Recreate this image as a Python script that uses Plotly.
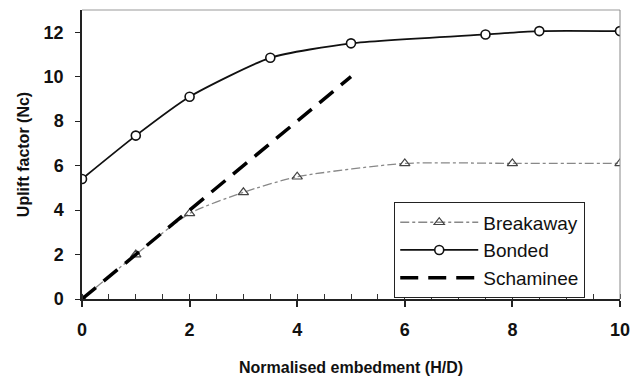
import plotly.graph_objects as go

# Data
bonded_x = [0, 1, 2, 3.5, 5, 7.5, 8.5, 10]
bonded_y = [5.4, 7.35, 9.1, 10.85, 11.5, 11.9, 12.05, 12.05]

breakaway_x = [0, 1, 2, 3, 4, 6, 8, 10]
breakaway_y = [0, 2.0, 3.85, 4.8, 5.5, 6.1, 6.1, 6.1]

schaminee_x = [0, 5]
schaminee_y = [0, 10]

x_ticks = [0, 2, 4, 6, 8, 10]
y_ticks = [0, 2, 4, 6, 8, 10, 12]

FONT = "Liberation Sans, Arial, sans-serif"

fig = go.Figure()

fig.add_trace(go.Scatter(
    x=breakaway_x, y=breakaway_y, name="Breakaway",
    mode="lines+markers",
    line=dict(color="#888888", width=1.3, dash="dashdot", shape="spline", smoothing=0.6),
    marker=dict(symbol="triangle-up-open", size=9, color="#444444", line=dict(width=1.2)),
))
fig.add_trace(go.Scatter(
    x=bonded_x, y=bonded_y, name="Bonded",
    mode="lines+markers",
    line=dict(color="#111111", width=1.8, shape="spline", smoothing=0.6),
    marker=dict(symbol="circle", size=9, color="white", line=dict(color="#111111", width=1.6)),
))
fig.add_trace(go.Scatter(
    x=schaminee_x, y=schaminee_y, name="Schaminee",
    mode="lines",
    line=dict(color="#000000", width=3.5, dash="18px,10px"),
))

fig.update_layout(
    width=634, height=380,
    margin=dict(l=82, r=14, t=10, b=81),
    paper_bgcolor="white", plot_bgcolor="white",
    font=dict(family=FONT, color="#111111"),
    showlegend=True,
    legend=dict(
        x=0.58, y=0.335, xanchor="left", yanchor="top",
        bordercolor="#222222", borderwidth=1.2, bgcolor="white",
        font=dict(size=19, family=FONT, color="#111111"),
        itemwidth=78,
        tracegroupgap=0,
    ),
    xaxis=dict(
        range=[0, 10], tickvals=x_ticks, ticktext=[str(v) for v in x_ticks],
        showgrid=False, zeroline=False, automargin=False,
        showline=True, linecolor="#222222", linewidth=1.5,
        ticks="outside", ticklen=6, tickcolor="#222222", tickwidth=1.5,
        ticklabelstandoff=8,
        minor=dict(dtick=0.5, tick0=0, ticks="inside", ticklen=5, tickcolor="#333333", tickwidth=1.2),
        tickfont=dict(size=18, family=FONT, weight="bold"),
        title=dict(text="<b>Normalised embedment (H/D)</b>", font=dict(size=16, family=FONT), standoff=22),
    ),
    yaxis=dict(
        range=[0, 13], tickvals=y_ticks, ticktext=[str(v) for v in y_ticks],
        showgrid=False, zeroline=False, automargin=False,
        showline=True, linecolor="#222222", linewidth=1.5,
        ticks="outside", ticklen=5, tickcolor="#222222", tickwidth=1.2,
        ticklabelstandoff=8,
        tickfont=dict(size=18, family=FONT, weight="bold"),
        title=dict(text="<b>Uplift factor (Nc)</b>", font=dict(size=16, family=FONT), standoff=10),
    ),
)

# light frame on top and right
fig.add_shape(type="line", xref="paper", yref="paper", x0=0, x1=1, y0=1, y1=1,
              line=dict(color="#999999", width=1))
fig.add_shape(type="line", xref="paper", yref="paper", x0=1, x1=1, y0=0, y1=1,
              line=dict(color="#888888", width=1))

fig.write_html("out.html")
